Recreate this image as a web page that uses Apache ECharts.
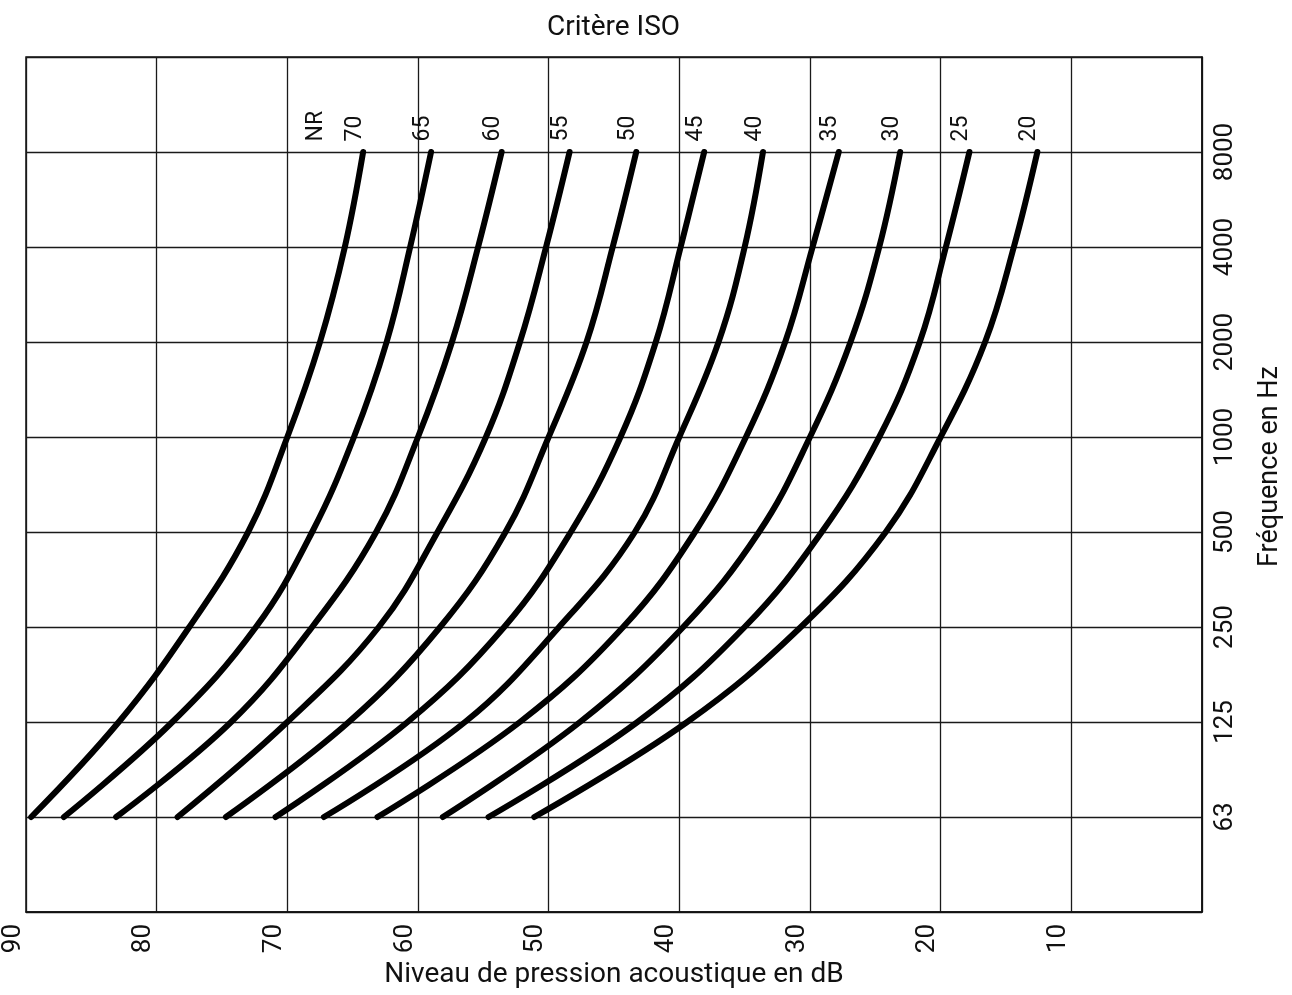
<!DOCTYPE html>
<html>
<head>
<meta charset="utf-8">
<script src="https://cdn.jsdelivr.net/npm/echarts@6/dist/echarts.min.js"></script>
<style>
html,body{margin:0;padding:0;background:#fff;}
#chart{width:1292px;height:995px;}
</style>
</head>
<body>
<div id="chart"></div>
<script>
// Frequency categories (bottom to top), blanks pad the empty rows
const freqs = ['63', '125', '250', '500', '1000', '2000', '4000', '8000'];
const yCategories = [' ', '63', '125', '250', '500', '1000', '2000', '4000', '8000', '  '];
const xTicks = [90, 80, 70, 60, 50, 40, 30, 20, 10];

// NR curves: sound pressure level (dB) at each frequency
const nrNames = ['70', '65', '60', '55', '50', '45', '40', '35', '30', '25', '20'];
const nr70 = [89.6, 82.9, 77.5, 73.0, 70.0, 67.5, 65.6, 64.2];
const nr65 = [87.1, 78.8, 72.4, 68.1, 64.9, 62.4, 60.6, 59.0];
const nr60 = [83.1, 74.3, 68.1, 63.2, 60.0, 57.4, 55.4, 53.6];
const nr55 = [78.4, 70.0, 63.0, 58.5, 54.8, 52.2, 50.2, 48.4];
const nr50 = [74.7, 65.3, 58.3, 53.3, 50.0, 47.1, 45.1, 43.3];
const nr45 = [70.9, 60.8, 53.4, 48.3, 44.5, 41.8, 39.9, 38.1];
const nr40 = [67.2, 56.4, 49.2, 43.4, 40.0, 37.0, 35.0, 33.6];
const nr35 = [63.1, 52.2, 44.3, 38.8, 34.9, 31.9, 29.8, 27.8];
const nr30 = [58.1, 47.6, 39.7, 33.9, 30.0, 26.9, 24.7, 23.1];
const nr25 = [54.6, 43.2, 35.0, 29.1, 24.7, 21.6, 19.6, 17.8];
const nr20 = [51.1, 39.4, 30.7, 24.2, 20.0, 16.6, 14.4, 12.6];
const nrValues = [nr70, nr65, nr60, nr55, nr50, nr45, nr40, nr35, nr30, nr25, nr20];
const nrPrefix = 'NR';

const FONT = "Roboto, 'Liberation Sans', sans-serif";
const INK = '#111';
const gridLine = { color: '#1a1a1a', width: 1.3 };

const curveLabel = {
  rotate: 90,
  position: 'top',
  distance: 10,
  align: 'left',
  verticalAlign: 'middle',
  fontFamily: FONT,
  fontSize: 23,
  color: INK
};

const series = nrValues.map((vals, i) => {
  const name = nrNames[i];
  const last = vals.length - 1;
  const s = {
    type: 'line',
    name: nrPrefix + ' ' + name,
    data: vals.map((v, k) => [v, freqs[k]]),
    smooth: 0.4,
    showSymbol: true,
    symbol: 'circle',
    symbolSize: 1,
    itemStyle: { color: '#000' },
    lineStyle: { color: '#000', width: 6, cap: 'round' },
    silent: true,
    label: Object.assign({}, curveLabel, {
      show: true,
      offset: [0, -8],
      formatter: p => p.dataIndex === last ? name : ''
    })
  };
  if (i === 0) {
    s.markPoint = {
      symbol: 'circle',
      symbolSize: 1,
      itemStyle: { color: 'rgba(0,0,0,0)' },
      silent: true,
      data: [{
        coord: [vals[last], freqs[last]],
        label: Object.assign({}, curveLabel, {
          show: true,
          offset: [0, -47],
          formatter: nrPrefix
        })
      }]
    };
  }
  return s;
});

const chart = echarts.init(document.getElementById('chart'), null, { renderer: 'canvas' });
chart.setOption({
  backgroundColor: '#fff',
  animation: false,
  title: {
    text: 'Critère ISO',
    left: 542,
    top: 9,
    textStyle: { fontFamily: FONT, fontSize: 28, fontWeight: 'normal', color: INK }
  },
  grid: { left: 22, right: 90, top: 57, bottom: 83, show: true, borderColor: '#111', borderWidth: 1.5 },
  xAxis: {
    type: 'value',
    inverse: true,
    min: 0,
    max: 90,
    interval: 10,
    axisLine: { show: true, lineStyle: { color: '#111', width: 1.5 } },
    axisTick: { show: false },
    splitLine: { show: true, lineStyle: gridLine },
    axisLabel: {
      rotate: 90,
      margin: 12,
      align: 'right',
      verticalAlign: 'bottom',
      fontFamily: FONT,
      fontSize: 26,
      color: INK,
      formatter: v => xTicks.indexOf(v) >= 0 ? String(v) : ''
    },
    name: 'Niveau de pression acoustique en dB',
    nameLocation: 'middle',
    nameGap: 45,
    nameTextStyle: { fontFamily: FONT, fontSize: 28, color: INK }
  },
  yAxis: {
    type: 'category',
    data: yCategories,
    boundaryGap: false,
    position: 'right',
    axisLine: { show: true, lineStyle: { color: '#111', width: 1.5 } },
    axisTick: { show: false },
    splitLine: { show: true, lineStyle: gridLine },
    axisLabel: {
      rotate: 90,
      margin: 10,
      align: 'center',
      verticalAlign: 'top',
      fontFamily: FONT,
      fontSize: 26,
      color: INK
    },
    name: 'Fréquence en Hz',
    nameLocation: 'middle',
    nameRotate: 90,
    nameGap: 55,
    nameTextStyle: { fontFamily: FONT, fontSize: 27, color: INK, padding: [0, 0, 0, 36] }
  },
  series: series
});
</script>
</body>
</html>
